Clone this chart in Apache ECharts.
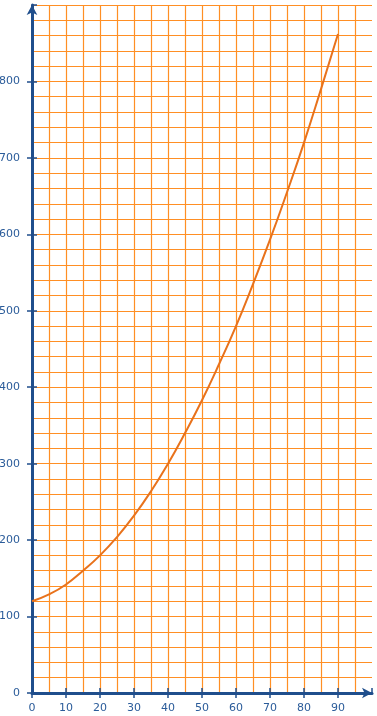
<!DOCTYPE html>
<html>
<head>
<meta charset="utf-8">
<script src="https://cdn.jsdelivr.net/npm/echarts@6/dist/echarts.min.js"></script>
<style>
  html, body { margin: 0; padding: 0; background: #fff; }
  #chart { width: 377px; height: 716px; }
</style>
</head>
<body>
<div id="chart"></div>
<script>
// values
const xValues = [0, 5, 10, 15, 20, 25, 30, 35, 40, 45, 50, 55, 60, 65, 70, 75, 80, 85, 90];
const yValues = [120, 129, 142, 160, 180, 204, 232, 264, 300, 340, 383, 430, 480, 535, 593, 655, 720, 790, 862];

const AXIS = '#1f4e8c';
const LABEL = '#2b5c9a';
const GRID = '#ff8f24';

const chart = echarts.init(document.getElementById('chart'), null, { renderer: 'canvas' });

const labelStyle = { color: LABEL, fontFamily: 'DejaVu Sans', fontSize: 11 };

const option = {
  animation: false,
  backgroundColor: '#fff',
  grid: { left: 32, right: 5, top: 5, bottom: 23, containLabel: false, outerBoundsMode: 'none' },
  xAxis: [{
    type: 'value',
    min: 0,
    max: 100,
    interval: 10,
    axisLine: { show: true, onZero: false, lineStyle: { color: AXIS, width: 3 }, symbol: ['none', 'arrow'], symbolSize: [8, 10] },
    axisTick: { show: true, length: 5, lineStyle: { color: AXIS, width: 1.5 } },
    axisLabel: Object.assign({ margin: 10, showMaxLabel: false }, labelStyle),
    splitLine: { show: true, showMaxLine: false, lineStyle: { color: GRID, width: 1.2 } },
    minorTick: { show: false, splitNumber: 2 },
    minorSplitLine: { show: true, lineStyle: { color: GRID, width: 1.2 } }
  }, {
    type: 'value',
    position: 'bottom',
    min: 0,
    max: 100,
    interval: 10,
    axisLine: { show: false, onZero: false },
    axisTick: { show: true, inside: true, length: 5, lineStyle: { color: AXIS, width: 1.5 } },
    axisLabel: { show: false },
    splitLine: { show: false }
  }],
  yAxis: [{
    type: 'value',
    min: 0,
    max: 900,
    interval: 100,
    axisLine: { show: true, onZero: false, lineStyle: { color: AXIS, width: 3 }, symbol: ['none', 'arrow'], symbolSize: [8, 10] },
    axisTick: { show: true, length: 5, lineStyle: { color: AXIS, width: 1.5 } },
    axisLabel: Object.assign({ margin: 12, showMaxLabel: false }, labelStyle),
    splitLine: { show: true, lineStyle: { color: GRID, width: 1.2 } },
    minorTick: { show: false, splitNumber: 5 },
    minorSplitLine: { show: true, lineStyle: { color: GRID, width: 1.2 } }
  }, {
    type: 'value',
    position: 'left',
    min: 0,
    max: 900,
    interval: 100,
    axisLine: { show: false, onZero: false },
    axisTick: { show: true, inside: true, length: 5, lineStyle: { color: AXIS, width: 1.5 } },
    axisLabel: { show: false },
    splitLine: { show: false }
  }],
  series: [{
    type: 'line',
    data: xValues.map((x, i) => [x, yValues[i]]),
    smooth: true,
    showSymbol: false,
    lineStyle: { color: '#e8721c', width: 2 },
    z: 5
  }]
};

chart.setOption(option);
</script>
</body>
</html>
